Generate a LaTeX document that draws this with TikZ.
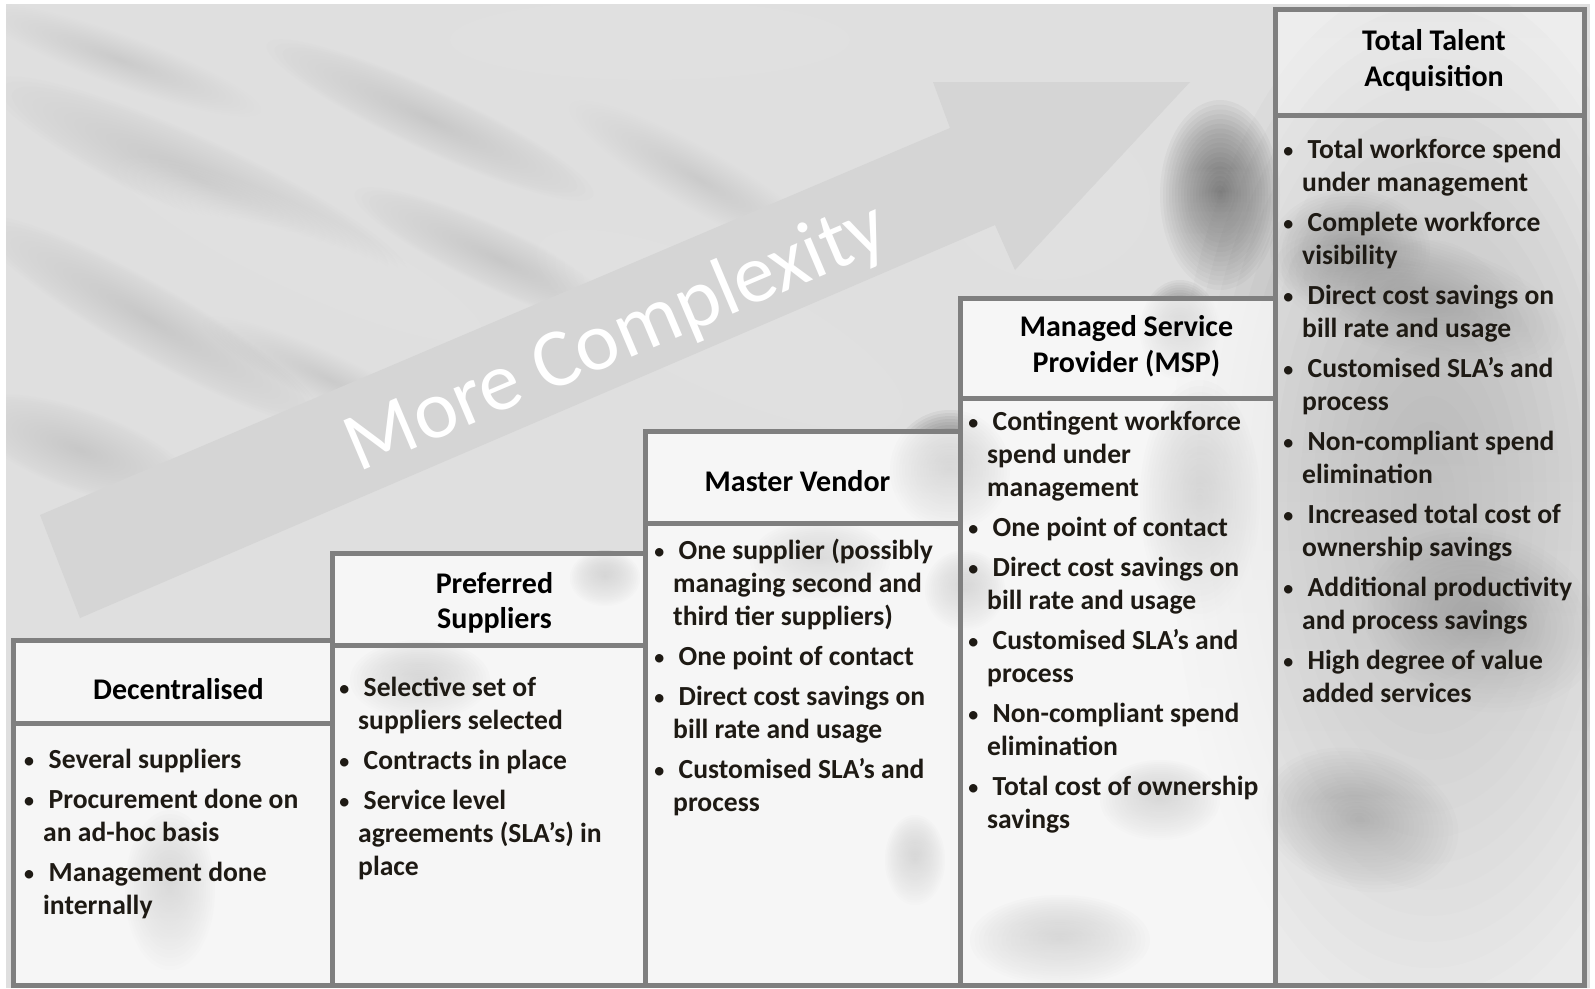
\documentclass[tikz,border=0pt]{standalone}
\usepackage{fontspec}
\setmainfont{Carlito}
\definecolor{edge}{HTML}{7F7F7F}
\definecolor{ink}{HTML}{1E1A14}
\definecolor{paper}{HTML}{DFDFDF}
\definecolor{arrowgray}{HTML}{D5D5D5}
\definecolor{shade}{HTML}{6E6E6E}
\definecolor{streak}{HTML}{9A9A9A}
% soft cloud patch: angle, x, y, rx, ry, colour, strength
\newcommand\cloudpatch[7]{%
  \pgfmathsetmacro\layerop{#7*0.6}%
  \begin{scope}[rotate around={#1:(#2,#3)}]
    \foreach \k in {0,...,19}{
      \fill[#6, opacity=\layerop] (#2,#3) ellipse ({#4*(1-\k/20)} and {#5*(1-\k/20)});
    }
  \end{scope}}
% small bullet hanging left of the text column
\newcommand\bul{\llap{{\fontsize{24}{24}\selectfont\mdseries\textbullet}\hspace{8pt}}\hspace{5.5pt}}
% fixed first-line height so the list top gives a known baseline
\newcommand\firstline{\rule{0pt}{25pt}}
\begin{document}
\begin{tikzpicture}[x=1pt,y=-1pt,
  hdrbox/.style={draw=edge, line width=5pt, fill=white, fill opacity=0.72},
  hdrtext/.style={text=black, align=center, inner sep=0pt,
    font=\fontsize{30}{35.5}\selectfont\bfseries},
  panel/.style={draw=edge, line width=5pt, fill=white, fill opacity=0.72},
  items/.style={anchor=north west, align=left, inner sep=0pt, text=ink,
    font=\fontsize{27.6}{33}\selectfont\bfseries}]
\useasboundingbox (0,0) rectangle (1595,988);
\fill[white] (0,0) rectangle (1595,988);
% cloudy backdrop
\fill[paper] (6,4) rectangle (1590,988);
\begin{scope}
  \clip (6,4) rectangle (1590,988);
  \cloudpatch{-25}{200}{180}{230}{40}{streak}{0.025}
  \cloudpatch{-25}{430}{120}{180}{30}{streak}{0.025}
  \cloudpatch{-30}{150}{320}{200}{35}{streak}{0.025}
  \cloudpatch{-25}{500}{260}{160}{30}{streak}{0.025}
  \cloudpatch{-20}{80}{450}{120}{40}{streak}{0.025}
  \cloudpatch{-30}{700}{180}{150}{30}{streak}{0.02}
  \cloudpatch{-20}{120}{60}{150}{25}{streak}{0.02}
  \cloudpatch{-25}{330}{380}{140}{25}{streak}{0.02}
  \cloudpatch{-25}{300}{250}{200}{40}{white}{0.05}
  \cloudpatch{0}{650}{40}{200}{40}{white}{0.05}
  \cloudpatch{-25}{720}{330}{200}{60}{white}{0.05}
  \cloudpatch{0}{1050}{200}{100}{80}{white}{0.05}
  \cloudpatch{0}{1220}{195}{60}{95}{shade}{0.04}
  \cloudpatch{0}{605}{578}{35}{28}{shade}{0.06}
  \cloudpatch{0}{420}{680}{70}{40}{shade}{0.05}
  \cloudpatch{0}{170}{890}{45}{80}{shade}{0.045}
  \cloudpatch{0}{950}{470}{60}{60}{shade}{0.05}
  \cloudpatch{0}{965}{590}{40}{40}{shade}{0.05}
  \cloudpatch{0}{1200}{500}{60}{120}{shade}{0.05}
  \cloudpatch{0}{1160}{800}{60}{40}{shade}{0.05}
  \cloudpatch{0}{1060}{940}{90}{45}{shade}{0.05}
  \cloudpatch{0}{915}{860}{30}{45}{shade}{0.05}
  \cloudpatch{0}{820}{560}{70}{40}{shade}{0.04}
  \cloudpatch{0}{1430}{500}{260}{520}{shade}{0.02}
  \cloudpatch{-15}{1420}{300}{150}{60}{shade}{0.025}
  \cloudpatch{-15}{1480}{620}{120}{90}{shade}{0.025}
  \cloudpatch{-15}{1360}{820}{100}{70}{shade}{0.025}
  \cloudpatch{0}{1350}{250}{80}{60}{shade}{0.03}
  \cloudpatch{0}{1180}{330}{40}{50}{shade}{0.04}
\end{scope}
% rising arrow
\fill[arrowgray] (40,515) -- (950,128) -- (933,82) -- (1190,82)
  -- (1015,270) -- (995,225) -- (80,618) -- cycle;
\node[rotate=23, text=white, inner sep=0pt,
  font=\fontsize{83}{96}\selectfont] (cplx) at (617,339) {More Complexity};
% column bodies
\node[panel, minimum width=319pt, minimum height=262pt] (b1) at (172.5,854) {};
\node[panel, minimum width=313pt, minimum height=340pt] (b2) at (488.5,815) {};
\node[panel, minimum width=315pt, minimum height=462pt] (b3) at (802.5,754) {};
\node[panel, minimum width=315pt, minimum height=587pt] (b4) at (1117.5,691.5) {};
\node[panel, fill opacity=0.35, minimum width=309pt, minimum height=870pt] (b5) at (1430,550) {};
% column headers
\node[hdrbox, minimum width=319pt, minimum height=83pt] (h1) at (172.5,681.5) {};
\node[hdrbox, minimum width=313pt, minimum height=92pt] (h2) at (488.5,599) {};
\node[hdrbox, minimum width=315pt, minimum height=92pt] (h3) at (802.5,477) {};
\node[hdrbox, minimum width=315pt, minimum height=100pt] (h4) at (1117.5,348) {};
\node[hdrbox, fill opacity=0.45, minimum width=309pt, minimum height=106pt] (h5) at (1430,62) {};
\node[hdrtext] (t1) at ([xshift=6pt, yshift=-8pt]h1.center) {Decentralised};
\node[hdrtext] (t2) at ([xshift=6pt, yshift=-4pt]h2.center) {Preferred\\Suppliers};
\node[hdrtext] (t3) at ([xshift=-5pt, yshift=-4pt]h3.center) {Master Vendor};
\node[hdrtext] (t4) at ([xshift=9pt, yshift=2pt]h4.center) {Managed Service\\Provider (MSP)};
\node[hdrtext] (t5) at ([xshift=4pt, yshift=1.5pt]h5.center) {Total Talent\\Acquisition};
% bullet lists
\node[items] (l1) at (43,743) {\firstline\bul Several suppliers\\[7pt]
  \bul Procurement done on\\an ad-hoc basis\\[7pt]
  \bul Management done\\internally};
\node[items] (l2) at (358,671) {\firstline\bul Selective set of\\suppliers selected\\[7pt]
  \bul Contracts in place\\[7pt]
  \bul Service level\\agreements (SLA’s) in\\place};
\node[items] (l3) at (673,534) {\firstline\bul One supplier (possibly\\managing second and\\third tier suppliers)\\[7pt]
  \bul One point of contact\\[7pt]
  \bul Direct cost savings on\\bill rate and usage\\[7pt]
  \bul Customised SLA’s and\\process};
\node[items] (l4) at (987,405) {\firstline\bul Contingent workforce\\spend under\\management\\[7pt]
  \bul One point of contact\\[7pt]
  \bul Direct cost savings on\\bill rate and usage\\[7pt]
  \bul Customised SLA’s and\\process\\[7pt]
  \bul Non-compliant spend\\elimination\\[7pt]
  \bul Total cost of ownership\\savings};
\node[items] (l5) at (1302,133) {\firstline\bul Total workforce spend\\under management\\[7pt]
  \bul Complete workforce\\visibility\\[7pt]
  \bul Direct cost savings on\\bill rate and usage\\[7pt]
  \bul Customised SLA’s and\\process\\[7pt]
  \bul Non-compliant spend\\elimination\\[7pt]
  \bul Increased total cost of\\ownership savings\\[7pt]
  \bul Additional productivity\\and process savings\\[7pt]
  \bul High degree of value\\added services};
\end{tikzpicture}
\end{document}
